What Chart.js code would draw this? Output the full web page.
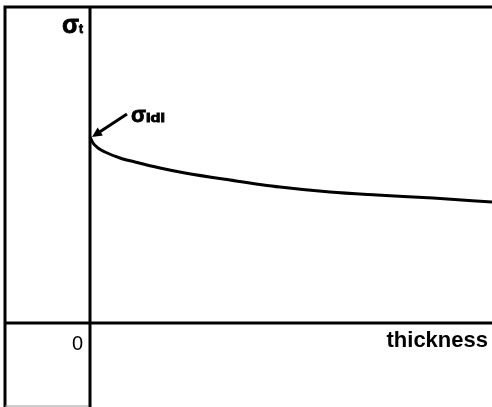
<!DOCTYPE html>
<html>
<head>
<meta charset="utf-8">
<script src="https://cdn.jsdelivr.net/npm/chart.js@4"></script>
<style>
  html, body { margin: 0; padding: 0; background: #fff; }
  #wrap { width: 492px; height: 407px; }
</style>
</head>
<body>
<div id="wrap"><canvas id="stressChart" width="492" height="407"></canvas></div>
<script>
// thickness (arbitrary units) vs. tensile stress
const thickness = [0, 3, 8, 15, 30, 45, 70, 95, 140, 190, 240, 287, 343, 402]
const stress = [186, 180, 175, 171, 165, 161, 155, 150, 143, 136, 131, 128, 125, 121]
const xTitle = 'thickness'
const yTitle = ['σ', 't']
const markLabel = ['σ', 'Idl']
const zeroLabel = '0'

const points = thickness.map((t, i) => ({ x: t, y: stress[i] }))

// heavy text, optionally stretched horizontally
function fillHeavy(ctx, text, x, y, sx) {
  ctx.save()
  ctx.translate(x, y)
  ctx.scale(sx, 1)
  ctx.lineWidth = 0.8
  ctx.fillText(text, 0, 0)
  ctx.strokeText(text, 0, 0)
  ctx.restore()
}

// axes through the origin, frame and hand-drawn labels
const sketchPlugin = {
  id: 'sketch',
  afterDraw(chart) {
    const ctx = chart.ctx
    const area = chart.chartArea
    const xs = chart.scales.x
    const ys = chart.scales.y
    const x0 = xs.getPixelForValue(0)
    const y0 = ys.getPixelForValue(0)
    ctx.save()
    ctx.strokeStyle = '#000'
    ctx.lineCap = 'butt'

    // frame
    ctx.lineWidth = 3
    ctx.beginPath()
    ctx.moveTo(area.left, area.bottom)
    ctx.lineTo(area.left, area.top)
    ctx.lineTo(area.right, area.top)
    ctx.stroke()
    ctx.lineWidth = 1
    ctx.strokeStyle = '#999'
    ctx.beginPath()
    ctx.moveTo(area.left, area.bottom - 1)
    ctx.lineTo(x0, area.bottom - 1)
    ctx.stroke()

    // axes at zero
    ctx.strokeStyle = '#000'
    ctx.lineWidth = 3
    ctx.beginPath()
    ctx.moveTo(x0, area.top)
    ctx.lineTo(x0, area.bottom)
    ctx.moveTo(area.left, y0)
    ctx.lineTo(area.right, y0)
    ctx.stroke()

    ctx.fillStyle = '#000'
    ctx.textBaseline = 'alphabetic'
    ctx.textAlign = 'left'

    // y title
    ctx.font = 'bold 25px "Liberation Sans", Arial, sans-serif'
    fillHeavy(ctx, yTitle[0], x0 - 28, ys.getPixelForValue(290), 1.0)
    ctx.font = 'bold 12px "Liberation Sans", Arial, sans-serif'
    fillHeavy(ctx, yTitle[1], x0 - 11, ys.getPixelForValue(290), 1.0)

    // zero
    ctx.font = '20px "Liberation Sans", Arial, sans-serif'
    ctx.textAlign = 'right'
    ctx.fillText(zeroLabel, x0 - 7, ys.getPixelForValue(-27))

    // x title
    ctx.font = 'bold 22px "Liberation Sans", Arial, sans-serif'
    ctx.fillText(xTitle, area.right - 4, ys.getPixelForValue(-24))

    // sigma_Idl label with arrow to the start of the curve
    const tipX = xs.getPixelForValue(thickness[0]) + 2
    const tipY = ys.getPixelForValue(stress[0])
    ctx.textAlign = 'left'
    ctx.font = 'bold 22px "Liberation Sans", Arial, sans-serif'
    fillHeavy(ctx, markLabel[0], x0 + 41, ys.getPixelForValue(201), 1.0)
    ctx.font = 'bold 12px "Liberation Sans", Arial, sans-serif'
    fillHeavy(ctx, markLabel[1], x0 + 56, ys.getPixelForValue(201), 1.35)

    const tailX = x0 + 37
    const tailY = ys.getPixelForValue(209)
    ctx.lineWidth = 3
    ctx.beginPath()
    ctx.moveTo(tailX, tailY)
    ctx.lineTo(tipX + 3, tipY - 2)
    ctx.stroke()
    const ang = Math.atan2(tipY - tailY, tipX - tailX)
    const len = 11
    ctx.beginPath()
    ctx.moveTo(tipX, tipY)
    ctx.lineTo(tipX - len * Math.cos(ang - 0.45), tipY - len * Math.sin(ang - 0.45))
    ctx.lineTo(tipX - len * Math.cos(ang + 0.45), tipY - len * Math.sin(ang + 0.45))
    ctx.closePath()
    ctx.fill()

    ctx.restore()
  },
}

const ctx = document.getElementById('stressChart').getContext('2d')
new Chart(ctx, {
  type: 'scatter',
  data: {
    datasets: [
      {
        label: 'stress',
        data: points,
        showLine: true,
        borderColor: '#000',
        borderWidth: 3,
        pointRadius: 0,
        cubicInterpolationMode: 'monotone',
        fill: false,
      },
    ],
  },
  options: {
    responsive: false,
    animation: false,
    layout: { padding: { left: 5, top: 7, right: 0, bottom: 0 } },
    scales: {
      x: { type: 'linear', min: -85, max: 402, display: false },
      y: { type: 'linear', min: -84, max: 316, display: false },
    },
    plugins: {
      legend: { display: false },
      tooltip: { enabled: false },
    },
  },
  plugins: [sketchPlugin],
})
</script>
</body>
</html>
